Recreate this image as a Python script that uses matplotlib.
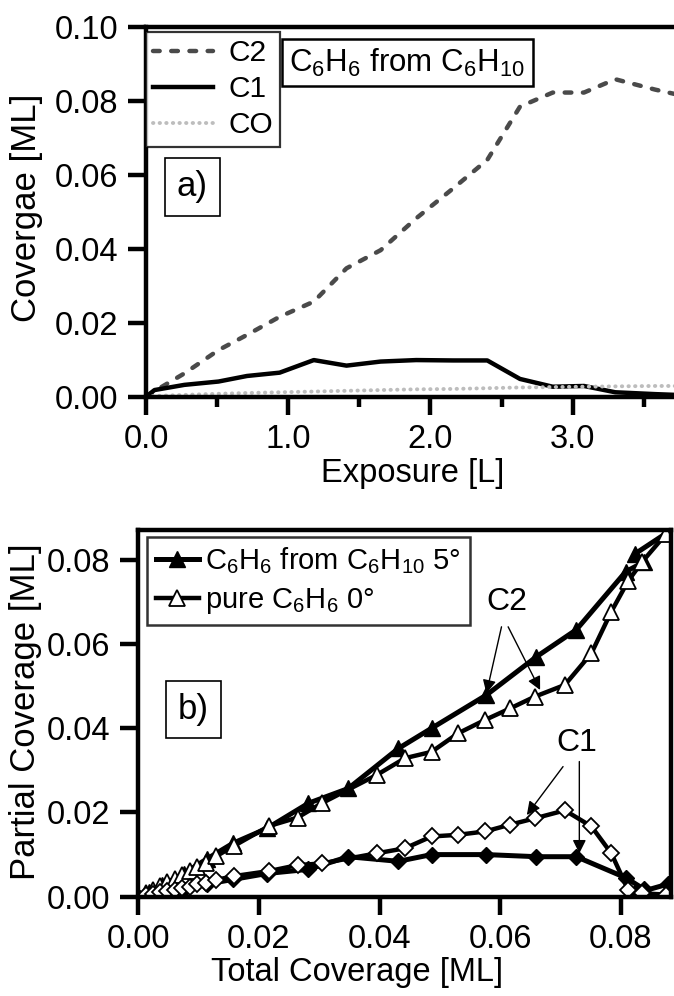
import matplotlib
matplotlib.use('Agg')
import matplotlib.pyplot as plt
from matplotlib.ticker import MultipleLocator, FormatStrFormatter

plt.rcParams['font.family'] = ['Liberation Sans', 'DejaVu Sans']
plt.rcParams['mathtext.default'] = 'regular'

# panel a) coverage vs exposure
exposure = [0.0, 0.06, 0.27, 0.51, 0.71, 0.94, 1.18, 1.41, 1.65, 1.90, 2.16, 2.40, 2.63, 2.86, 3.08, 3.30, 3.58, 3.72]
c2 = [0.0, 0.0015, 0.0063, 0.0126, 0.0167, 0.0216, 0.0257, 0.0347, 0.0396, 0.0482, 0.0563, 0.0640,
      0.0784, 0.0822, 0.0822, 0.0858, 0.0830, 0.0818]
c1 = [0.0, 0.0018, 0.0032, 0.0041, 0.0056, 0.0065, 0.0099, 0.0084, 0.0095, 0.0099, 0.0098, 0.0098,
      0.0048, 0.0027, 0.0029, 0.0012, 0.0007, 0.0005]
co = [0.0, 0.0002, 0.0005, 0.0008, 0.0010, 0.0012, 0.0014, 0.0016, 0.0018, 0.0020, 0.0021, 0.0023,
      0.0025, 0.0026, 0.0027, 0.0028, 0.0029, 0.0029]

# panel b) partial vs total coverage
tot_5 = [0.0, 0.0018, 0.0040, 0.0075, 0.0114, 0.0157, 0.0213, 0.0282, 0.0348, 0.0431, 0.0486, 0.0577,
         0.0660, 0.0726, 0.0808, 0.0838, 0.0824, 0.0878]
c2_5 = [0.0, 0.0011, 0.0027, 0.0055, 0.0090, 0.0127, 0.0162, 0.0222, 0.0257, 0.0352, 0.0400, 0.0479,
        0.0570, 0.0634, 0.0772, 0.0795, 0.0815, 0.0866]
c1_5 = [0.0, 0.0005, 0.0010, 0.0018, 0.0030, 0.0041, 0.0055, 0.0065, 0.0095, 0.0084, 0.0100, 0.0100,
        0.0095, 0.0095, 0.0045, 0.0018, 0.0008, 0.0030]

tot_0 = [0.0, 0.0012, 0.0024, 0.0036, 0.0048, 0.0060, 0.0072, 0.0085, 0.0098, 0.0112, 0.0129, 0.0159,
         0.0217, 0.0264, 0.0304, 0.0395, 0.0442, 0.0486, 0.0530, 0.0575, 0.0616, 0.0657, 0.0707,
         0.0751, 0.0784, 0.0812, 0.0835, 0.0875]
c2_0 = [0.0, 0.0008, 0.0017, 0.0026, 0.0034, 0.0043, 0.0052, 0.0061, 0.0071, 0.0081, 0.0096, 0.0121,
        0.0168, 0.0188, 0.0222, 0.0289, 0.0329, 0.0344, 0.0388, 0.0420, 0.0447, 0.0475, 0.0503,
        0.0578, 0.0677, 0.0750, 0.0795, 0.0862]
c1_0 = [0.0, 0.0003, 0.0006, 0.0010, 0.0013, 0.0017, 0.0020, 0.0024, 0.0030, 0.0033, 0.0040, 0.0049,
        0.0061, 0.0075, 0.0079, 0.0103, 0.0115, 0.0143, 0.0147, 0.0155, 0.0171, 0.0186, 0.0205,
        0.0167, 0.0103, 0.0016, 0.0008, 0.0005]

TICK_FS = 23.5
XLABEL_FS = 23.5
YLABEL_FS = 25

fig = plt.figure(figsize=(6.74, 9.96), dpi=100)
ax1 = fig.add_axes([0.2166, 0.6017, 0.7834, 0.3715])
ax2 = fig.add_axes([0.2052, 0.0997, 0.7904, 0.3682])

for ax in (ax1, ax2):
    for s in ax.spines.values():
        s.set_linewidth(3.2)
    ax.tick_params(which='major', direction='out', length=13, width=3.2, labelsize=TICK_FS, pad=7)
    ax.tick_params(which='minor', direction='out', length=7, width=3.2)
    ax.tick_params(top=False, right=False)

# ---- top panel
ax1.plot(exposure, c2, color='#4a4a4a', lw=3.2, linestyle=(0, (1.5, 2.6)),
         dash_capstyle='round', label='C2')
ax1.plot(exposure, c1, color='black', lw=3.2, label='C1')
ax1.plot(exposure, co, color='#bdbdbd', lw=2.8, linestyle=(0, (0.1, 1.6)),
         dash_capstyle='round', label='CO')
ax1.set_xlim(0, 3.713)
ax1.set_ylim(0, 0.10)
ax1.spines['right'].set_visible(False)
ax1.xaxis.set_major_locator(MultipleLocator(1.0))
ax1.xaxis.set_minor_locator(MultipleLocator(0.5))
ax1.xaxis.set_major_formatter(FormatStrFormatter('%.1f'))
ax1.yaxis.set_major_locator(MultipleLocator(0.02))
ax1.yaxis.set_major_formatter(FormatStrFormatter('%.2f'))
ax1.set_xlabel('Exposure [L]', fontsize=XLABEL_FS)
ax1.set_ylabel('Covergae [ML]', fontsize=YLABEL_FS)
ax1.xaxis.set_label_coords(0.506, -0.165)
ax1.yaxis.set_label_coords(-0.195, 0.51)

leg1 = ax1.legend(loc='upper left', bbox_to_anchor=(0.0, 0.987), fontsize=21.5, frameon=True,
                  fancybox=False, handlelength=2.0, handletextpad=0.5, labelspacing=0.27,
                  borderpad=0.25, borderaxespad=0)
leg1.get_frame().set_edgecolor('black')
leg1.get_frame().set_linewidth(1.6)

ax1.text(0.495, 0.903, 'C$_6$H$_6$ from C$_6$H$_{10}$', transform=ax1.transAxes, fontsize=22.5,
         va='center', ha='center',
         bbox=dict(boxstyle='square,pad=0.25', fc='white', ec='black', lw=1.8))
ax1.text(0.088, 0.567, 'a)', transform=ax1.transAxes, fontsize=25, va='center', ha='center',
         bbox=dict(boxstyle='square,pad=0.35', fc='white', ec='black', lw=1.2))

# ---- bottom panel
ax2.plot(tot_5, c2_5, color='black', lw=3.6, marker='^', ms=11, mfc='black', mec='black',
         label='C$_6$H$_6$ from C$_6$H$_{10}$ 5°')
ax2.plot(tot_5, c1_5, color='black', lw=3.6, marker='D', ms=8, mfc='black', mec='black')
ax2.plot(tot_0, c2_0, color='black', lw=3.2, marker='^', ms=11, mfc='white', mec='black', mew=1.3,
         label='pure C$_6$H$_6$ 0°')
ax2.plot(tot_0, c1_0, color='black', lw=3.2, marker='D', ms=8, mfc='white', mec='black', mew=1.3)
ax2.set_xlim(0, 0.0883)
ax2.set_ylim(0, 0.0871)
ax2.xaxis.set_major_locator(MultipleLocator(0.02))
ax2.yaxis.set_major_locator(MultipleLocator(0.02))
ax2.xaxis.set_major_formatter(FormatStrFormatter('%.2f'))
ax2.yaxis.set_major_formatter(FormatStrFormatter('%.2f'))
ax2.set_xlabel('Total Coverage [ML]', fontsize=XLABEL_FS)
ax2.set_ylabel('Partial Coverage [ML]', fontsize=YLABEL_FS)
ax2.xaxis.set_label_coords(0.41, -0.165)
ax2.yaxis.set_label_coords(-0.18, 0.504)

leg2 = ax2.legend(loc='upper left', bbox_to_anchor=(0.016, 0.982), fontsize=21, frameon=True,
                  fancybox=False, handlelength=1.5, handletextpad=0.2, labelspacing=0.35,
                  borderpad=0.3, borderaxespad=0)
leg2.get_frame().set_edgecolor('black')
leg2.get_frame().set_linewidth(1.8)

ax2.text(0.103, 0.51, 'b)', transform=ax2.transAxes, fontsize=25, va='center', ha='center',
         bbox=dict(boxstyle='square,pad=0.35', fc='white', ec='black', lw=1.2))

arrow = dict(arrowstyle='-|>', color='black', lw=1.0, mutation_scale=20, shrinkA=0, shrinkB=0)
ax2.text(0.0611, 0.0700, 'C2', fontsize=23, ha='center', va='center')
ax2.annotate('', xy=(0.0577, 0.0483), xytext=(0.0602, 0.0641), arrowprops=arrow)
ax2.annotate('', xy=(0.0666, 0.0491), xytext=(0.0613, 0.0641), arrowprops=arrow)
ax2.text(0.0727, 0.0365, 'C1', fontsize=23, ha='center', va='center')
ax2.annotate('', xy=(0.0644, 0.0194), xytext=(0.0704, 0.0309), arrowprops=arrow)
ax2.annotate('', xy=(0.0731, 0.0103), xytext=(0.0731, 0.0321), arrowprops=arrow)

fig.savefig('out.png', dpi=100)
